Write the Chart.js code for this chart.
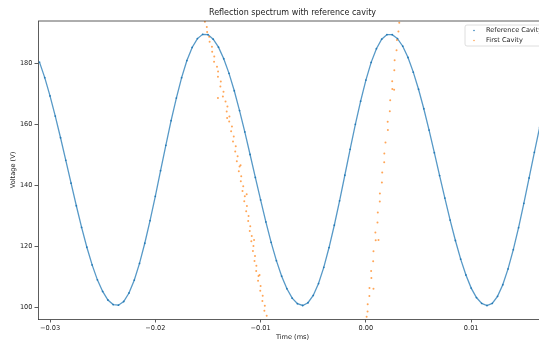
<!DOCTYPE html>
<html lang="en">
<head>
<meta charset="UTF-8">
<title>Reflection spectrum with reference cavity</title>
<script src="https://cdn.jsdelivr.net/npm/chart.js@4.4.0/dist/chart.umd.min.js"></script>
<style>
    html, body { margin: 0; padding: 0; background: #fff; overflow: hidden; }
    #wrap { width: 539px; height: 342px; overflow: hidden; }
</style>
</head>
<body>
<div id="wrap"><canvas id="spectrum" width="551" height="342"></canvas></div>

<script>
// reference cavity (time in ms, voltage in V)
var timeRef = [
    -0.0310,-0.0305,-0.0300,-0.0295,-0.0290,-0.0285,-0.0280,-0.0275,-0.0270,-0.0265,
    -0.0260,-0.0255,-0.0250,-0.0245,-0.0240,-0.0235,-0.0230,-0.0225,-0.0220,-0.0215,
    -0.0210,-0.0205,-0.0200,-0.0195,-0.0190,-0.0185,-0.0180,-0.0175,-0.0170,-0.0165,
    -0.0160,-0.0155,-0.0150,-0.0145,-0.0140,-0.0135,-0.0130,-0.0125,-0.0120,-0.0115,
    -0.0110,-0.0105,-0.0100,-0.0095,-0.0090,-0.0085,-0.0080,-0.0075,-0.0070,-0.0065,
    -0.0060,-0.0055,-0.0050,-0.0045,-0.0040,-0.0035,-0.0030,-0.0025,-0.0020,-0.0015,
    -0.0010,-0.0005,0.0000,0.0005,0.0010,0.0015,0.0020,0.0025,0.0030,0.0035,
    0.0040,0.0045,0.0050,0.0055,0.0060,0.0065,0.0070,0.0075,0.0080,0.0085,
    0.0090,0.0095,0.0100,0.0105,0.0110,0.0115,0.0120,0.0125,0.0130,0.0135,
    0.0140,0.0145,0.0150,0.0155,0.0160,0.0165,0.0170
];
var voltRef = [
    180.3,175.2,169.2,162.6,155.5,148.1,140.6,133.2,126.1,119.6,
    113.8,108.9,105.1,102.3,100.8,100.6,101.8,104.6,108.8,114.3,
    120.9,128.3,136.3,144.7,153.0,161.1,168.5,175.2,180.8,185.1,
    188.0,189.4,189.3,187.8,185.2,181.4,176.6,170.9,164.4,157.4,
    150.0,142.5,135.1,127.9,121.2,115.2,110.1,106.0,102.9,101.1,
    100.5,101.4,103.8,107.7,113.0,119.5,126.8,134.8,143.2,151.7,
    159.9,167.5,174.4,180.2,184.7,187.8,189.3,189.3,188.0,185.5,
    181.8,177.0,171.4,165.0,158.0,150.6,143.1,135.7,128.5,121.8,
    115.7,110.5,106.2,103.1,101.2,100.5,101.2,103.5,107.3,112.5,
    118.8,126.0,134.0,142.3,150.7,158.9,166.7
];

// first cavity: falling band then rising band
var timeFirst = [
    -0.01529,-0.01511,-0.01508,-0.01488,-0.01484,-0.01462,-0.01460,-0.01440,-0.01442,-0.01414,
    -0.01404,-0.01405,-0.01378,-0.01382,-0.01352,-0.01358,-0.01333,-0.01315,-0.01322,-0.01296,
    -0.01298,-0.01272,-0.01280,-0.01255,-0.01262,-0.01236,-0.01241,-0.01218,-0.01226,-0.01200,
    -0.01207,-0.01184,-0.01188,-0.01165,-0.01172,-0.01150,-0.01155,-0.01130,-0.01137,-0.01114,
    -0.01118,-0.01098,-0.01103,-0.01084,-0.01088,-0.01068,-0.01073,-0.01053,-0.01058,-0.01040,
    -0.01042,-0.01020,-0.01024,-0.01000,-0.01003,-0.00980,-0.00983,-0.00960,-0.00964,-0.00942,
    -0.01405,-0.01318,-0.01190,-0.01132,-0.01062,-0.01010,
    0.00007,0.00016,0.00017,0.00033,0.00034,0.00052,0.00050,0.00069,0.00072,0.00093,
    0.00090,0.00110,0.00113,0.00132,0.00133,0.00152,0.00155,0.00174,0.00175,0.00186,
    0.00209,0.00207,0.00227,0.00231,0.00251,0.00250,0.00270,0.00273,0.00291,0.00295,
    0.00309,0.00317,0.00072,0.00268,0.00120
];
var voltFirst = [
    193.5,191.8,190.2,188.6,187.0,185.3,183.7,182.1,180.4,178.8,
    177.2,175.5,173.9,172.3,170.6,169.0,167.4,165.7,164.1,162.5,
    160.8,159.2,157.6,155.9,154.3,152.7,151.0,149.4,147.8,146.1,
    144.5,142.9,141.2,139.6,138.0,136.3,134.7,133.1,131.4,129.8,
    128.2,126.5,124.9,123.3,121.6,120.0,118.4,116.7,115.1,113.5,
    111.8,110.2,108.6,106.9,105.3,103.7,102.0,100.4,98.8,97.1,
    168.5,162.0,146.5,137.0,122.0,110.5,
    96.8,98.5,100.9,103.6,106.2,109.5,111.8,115.0,118.3,121.9,
    124.4,127.7,131.0,134.6,137.2,140.8,144.1,147.5,150.3,153.9,
    158.0,160.7,164.2,167.8,171.5,174.0,177.6,180.9,184.2,187.5,
    190.3,193.2,106.0,171.2,122.0
];

var xTicks = [-0.03, -0.02, -0.01, 0.00, 0.01];
var yTicks = [100, 120, 140, 160, 180];
var xMin = -0.03114, xMax = 0.01720;
var yMin = 96.07, yMax = 193.77;

var FONT = 'DejaVu Sans';

function pairs(xs, ys) {
    return xs.map(function (x, i) { return { x: x, y: ys[i] }; });
}

// top/right spines and the little legend box in the corner
var frame = {
    id: 'frame',
    afterDraw: function (chart) {
        var ctx = chart.ctx, a = chart.chartArea;
        ctx.save();
        ctx.strokeStyle = '#333';
        ctx.lineWidth = 0.8;
        ctx.beginPath();
        ctx.moveTo(a.left, a.top);
        ctx.lineTo(a.right, a.top);
        ctx.lineTo(a.right, a.bottom);
        ctx.stroke();

        var bx = a.right - 82, by = a.top + 4, bw = 80, bh = 21;
        ctx.fillStyle = 'rgba(255,255,255,0.8)';
        ctx.strokeStyle = '#d6d6d6';
        ctx.beginPath();
        ctx.roundRect(bx, by, bw, bh, 2);
        ctx.fill();
        ctx.stroke();

        ctx.font = '6.6px "' + FONT + '"';
        ctx.textBaseline = 'middle';
        chart.data.datasets.forEach(function (ds, i) {
            var y = by + 5.5 + i * 10;
            ctx.fillStyle = ds.pointBackgroundColor;
            ctx.beginPath();
            ctx.arc(bx + 9, y, 0.8, 0, Math.PI * 2);
            ctx.fill();
            ctx.fillStyle = '#222';
            ctx.fillText(ds.label, bx + 21, y);
        });
        ctx.restore();
    }
};

var ctx = document.getElementById('spectrum').getContext('2d');
var chart = new Chart(ctx, {
    type: 'scatter',
    data: {
        datasets: [{
            label: 'Reference Cavity',
            data: pairs(timeRef, voltRef),
            showLine: true,
            tension: 0,
            borderColor: 'rgba(31,119,180,0.75)',
            borderWidth: 1.3,
            pointRadius: 0.9,
            pointBorderWidth: 0,
            pointBackgroundColor: 'rgba(31,119,180,0.9)',
            order: 1
        }, {
            label: 'First Cavity',
            data: pairs(timeFirst, voltFirst),
            pointRadius: 1,
            pointBorderWidth: 0,
            pointBackgroundColor: 'rgba(255,127,14,0.7)',
            order: 0
        }]
    },
    options: {
        responsive: false,
        animation: false,
        layout: { padding: 0 },
        plugins: {
            legend: { display: false },
            tooltip: { enabled: false },
            title: {
                display: true,
                fullSize: false,
                text: 'Reflection spectrum with reference cavity',
                color: '#222',
                font: { family: FONT, size: 8, weight: 'normal', lineHeight: 1.2 },
                padding: { top: 8.5, bottom: 2.9 }
            }
        },
        scales: {
            x: {
                type: 'linear',
                min: xMin,
                max: xMax,
                afterBuildTicks: function (s) { s.ticks = xTicks.map(function (v) { return { value: v }; }); },
                afterFit: function (s) { s.height = 23; },
                grid: { drawOnChartArea: false, drawTicks: true, tickLength: 3.5, tickColor: '#333', tickWidth: 0.8 },
                border: { color: '#333', width: 0.8 },
                ticks: {
                    padding: 2,
                    color: '#222',
                    maxRotation: 0,
                    autoSkip: false,
                    font: { family: FONT, size: 6.6 },
                    callback: function (v) { return v.toFixed(2).replace('-', '\u2212'); }
                },
                title: {
                    display: true,
                    text: 'Time (ms)',
                    color: '#222',
                    font: { family: FONT, size: 6.6, lineHeight: 1.2 },
                    padding: { top: 0, bottom: 1 }
                }
            },
            y: {
                min: yMin,
                max: yMax,
                afterBuildTicks: function (s) { s.ticks = yTicks.map(function (v) { return { value: v }; }); },
                afterFit: function (s) { s.width = 38; },
                grid: { drawOnChartArea: false, drawTicks: true, tickLength: 3.5, tickColor: '#333', tickWidth: 0.8 },
                border: { color: '#333', width: 0.8 },
                ticks: {
                    padding: 2,
                    color: '#222',
                    font: { family: FONT, size: 6.6 },
                    callback: function (v) { return String(v); }
                },
                title: {
                    display: true,
                    text: 'Voltage (V)',
                    color: '#222',
                    font: { family: FONT, size: 6.6, lineHeight: 1.2 },
                    padding: { top: 9, bottom: 0 }
                }
            }
        }
    },
    plugins: [frame]
});
</script>
</body>
</html>
